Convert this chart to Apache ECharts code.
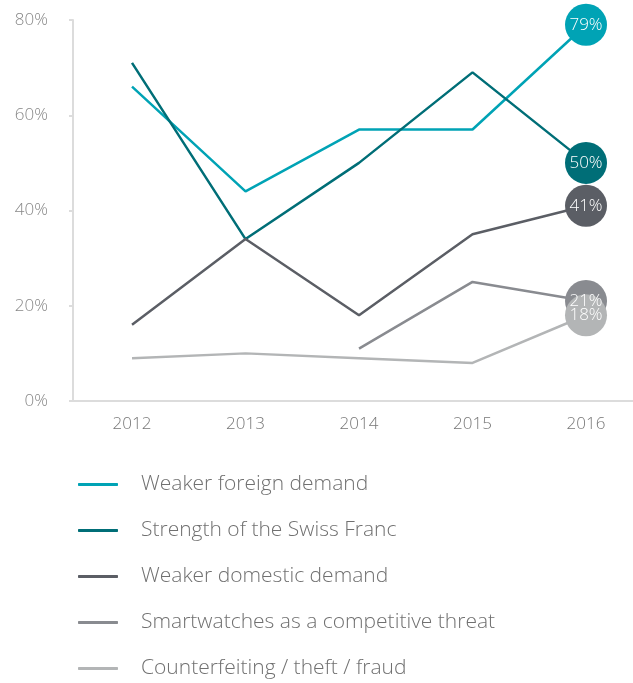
<!DOCTYPE html>
<html>
<head>
<meta charset="utf-8">
<script src="https://cdn.jsdelivr.net/npm/echarts@6/dist/echarts.min.js"></script>
<style>
  html, body { margin: 0; padding: 0; background: #fff; }
  #chart { width: 633px; height: 683px; }
</style>
</head>
<body>
<div id="chart"></div>
<script>
var years = [2012, 2013, 2014, 2015, 2016];
var yTicks = [0, 20, 40, 60, 80];

var foreignDemand = [66, 44, 57, 57, 79];
var swissFranc = [71, 34, 50, 69, 50];
var domesticDemand = [16, 34, 18, 35, 41];
var smartwatches = [null, null, 11, 25, 21];
var counterfeiting = [9, 10, 9, 8, 18];

var seriesNames = [
    'Weaker foreign demand',
    'Strength of the Swiss Franc',
    'Weaker domestic demand',
    'Smartwatches as a competitive threat',
    'Counterfeiting / theft / fraud'
];
var seriesValues = [foreignDemand, swissFranc, domesticDemand, smartwatches, counterfeiting];
var colors = ['#00a3b5', '#006e77', '#5b5e65', '#898b90', '#b3b5b6'];

var font = '"Open Sans", "Noto Sans", sans-serif';

var myChart = echarts.init(document.getElementById('chart'));

function buildSeries(name, values, idx) {
    var last = values.length - 1;
    var data = values.map(function (v, i) {
        if (v === null) return null;
        var item = { value: [years[i], v] };
        if (i === last) {
            item.symbol = 'circle';
            item.symbolSize = 42;
            item.label = {
                show: true,
                position: 'inside',
                formatter: v + '%',
                color: '#fff',
                fontSize: 17,
                fontWeight: 300,
                fontFamily: font
            };
        }
        return item;
    });
    return {
        name: name,
        type: 'line',
        data: data,
        symbol: 'none',
        connectNulls: false,
        lineStyle: { color: colors[idx], width: 2.5 },
        itemStyle: { color: colors[idx] },
        emphasis: { disabled: true },
        animation: false
    };
}

var option = {
    backgroundColor: '#fff',
    color: colors,
    grid: {
        left: 73,
        right: 0,
        top: 20,
        bottom: 282
    },
    xAxis: {
        type: 'value',
        min: 2011.48,
        max: 2016.414,
        splitLine: { show: false },
        axisLine: { show: true, lineStyle: { color: '#dcdcdc', width: 2 } },
        axisTick: { show: false },
        axisLabel: {
            customValues: years,
            color: '#777',
            fontSize: 17,
            fontWeight: 300,
            fontFamily: font,
            margin: 15,
            formatter: function (v) { return String(v); }
        }
    },
    yAxis: {
        type: 'value',
        min: 0,
        max: 80,
        interval: 20,
        splitLine: { show: false },
        axisLine: { show: true, lineStyle: { color: '#dcdcdc', width: 2 } },
        axisTick: { show: true, length: 4, lineStyle: { color: '#dcdcdc', width: 2 } },
        axisLabel: {
            color: '#888',
            fontSize: 17,
            fontWeight: 300,
            fontFamily: font,
            margin: 25,
            formatter: '{value}%'
        }
    },
    legend: {
        orient: 'vertical',
        left: 78,
        top: 473,
        height: 210,
        padding: 0,
        itemWidth: 40,
        itemHeight: 3,
        itemGap: 23,
        icon: 'roundRect',
        data: seriesNames,
        textStyle: {
            color: '#707070',
            fontSize: 21,
            fontWeight: 300,
            fontFamily: font,
            lineHeight: 23,
            padding: [0, 0, 0, 18]
        }
    },
    series: seriesNames.map(function (n, i) { return buildSeries(n, seriesValues[i], i); })
};

myChart.setOption(option);
</script>
</body>
</html>
